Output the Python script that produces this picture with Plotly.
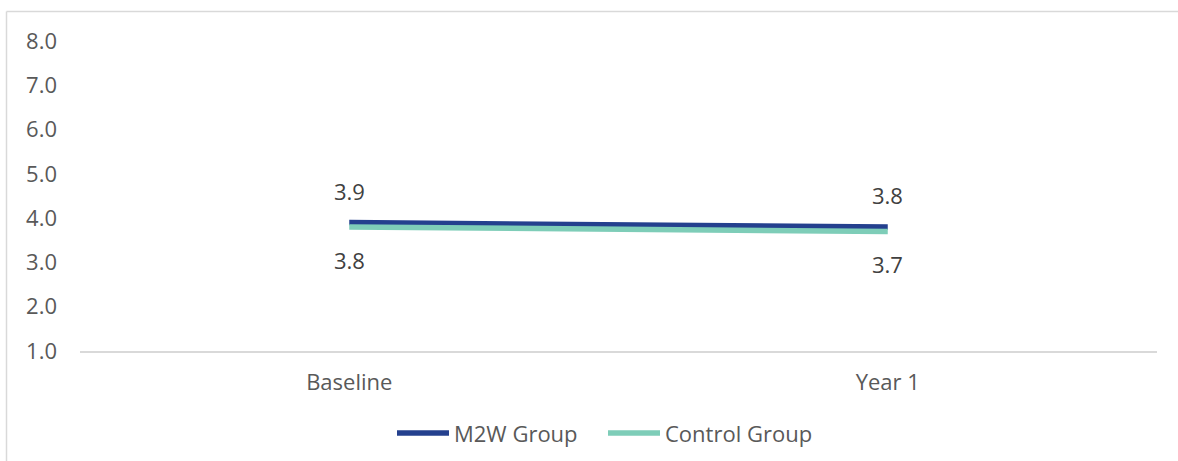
import plotly.graph_objects as go

# Survey time points and group averages
time_points = ["Baseline", "Year 1"]
m2w_scores = [3.9, 3.8]
control_scores = [3.8, 3.7]

y_ticks = [1, 2, 3, 4, 5, 6, 7, 8]
series_names = ["M2W Group", "Control Group"]

M2W_COLOR = "#24408E"
CONTROL_COLOR = "#7ECDB8"
TEXT_COLOR = "#595959"
LABEL_COLOR = "#404040"
FONT = "Open Sans"
FS = 22
LW = 5.5

fig = go.Figure()
fig.add_trace(go.Scatter(
    x=time_points, y=m2w_scores, mode="lines", name=series_names[0],
    line=dict(color=M2W_COLOR, width=LW), showlegend=False,
))
fig.add_trace(go.Scatter(
    x=time_points, y=control_scores, mode="lines", name=series_names[1],
    line=dict(color=CONTROL_COLOR, width=LW), showlegend=False,
))

# Value labels: M2W above the line, control below
for x, y in zip(time_points, m2w_scores):
    fig.add_annotation(x=x, y=y, text=f"{y:.1f}", showarrow=False,
                       yshift=32, font=dict(size=FS, color=LABEL_COLOR, family=FONT))
for x, y in zip(time_points, control_scores):
    fig.add_annotation(x=x, y=y, text=f"{y:.1f}", showarrow=False,
                       yshift=-33, font=dict(size=FS, color=LABEL_COLOR, family=FONT))

W, H = 1178, 461
ML, MR, MT, MB = 80, 21, 41, 110
pw, ph = W - ML - MR, H - MT - MB

def px_x(p):
    return (p - ML) / pw

def px_y(p):
    return (H - MB - p) / ph

# Chart frame (left and top edges)
fig.add_shape(type="line", xref="paper", yref="paper",
              x0=px_x(6.5), x1=px_x(6.5), y0=px_y(11.5), y1=px_y(470),
              line=dict(color="#D9D9D9", width=1.5))
fig.add_shape(type="line", xref="paper", yref="paper",
              x0=px_x(6.5), x1=px_x(1190), y0=px_y(11.5), y1=px_y(11.5),
              line=dict(color="#D9D9D9", width=1.5))

# Legend drawn below the plot: long line swatch followed by the series name
legend_y = px_y(433)
for name, color, x_start in zip(series_names, [M2W_COLOR, CONTROL_COLOR], [397, 608]):
    fig.add_shape(type="line", xref="paper", yref="paper",
                  x0=px_x(x_start), x1=px_x(x_start + 52), y0=legend_y, y1=legend_y,
                  line=dict(color=color, width=LW))
    fig.add_annotation(xref="paper", yref="paper", x=px_x(x_start + 55), y=legend_y,
                       text=name, showarrow=False, xanchor="left", yanchor="middle",
                       font=dict(size=FS, color=TEXT_COLOR, family=FONT))

fig.update_layout(
    width=W, height=H,
    margin=dict(l=ML, r=MR, t=MT, b=MB, autoexpand=False),
    paper_bgcolor="white", plot_bgcolor="white",
    font=dict(family=FONT, size=FS, color=TEXT_COLOR),
    showlegend=False,
    xaxis=dict(range=[-0.5, 1.5], showgrid=False, zeroline=False,
               showline=True, linecolor="#D9D9D9", linewidth=1.5,
               ticks="", ticklabelstandoff=11, automargin=False,
               tickfont=dict(size=FS, color=TEXT_COLOR)),
    yaxis=dict(range=[1, 8], tickvals=y_ticks, tickformat=".1f",
               showgrid=False, zeroline=False, showline=False, ticks="",
               ticklabelstandoff=22, automargin=False,
               tickfont=dict(size=FS, color=TEXT_COLOR)),
)

fig.write_html("out.html")
